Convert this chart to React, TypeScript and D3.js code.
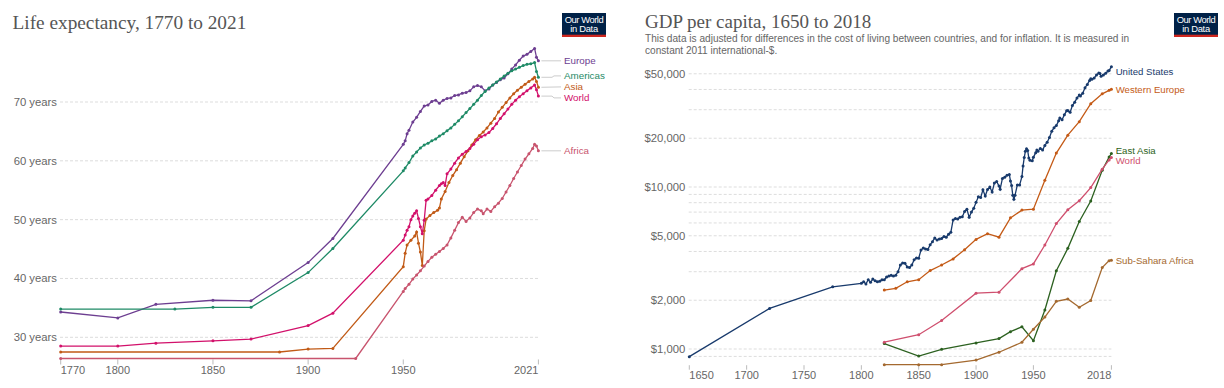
import React from 'react';
import * as d3 from 'd3';

type P = [number, number];

// ---------------- Life expectancy (left) ----------------
const leTitle = 'Life expectancy, 1770 to 2021';
const leYTicks = [30, 40, 50, 60, 70];
const leXTicks = [1770, 1800, 1850, 1900, 1950, 2021];

const europe: P[] = [
  [1770, 34.3], [1800, 33.3], [1820, 35.6], [1850, 36.3], [1870, 36.2], [1900, 42.7], [1913, 46.8],
  [1950, 62.8], [1951, 63.4], [1952, 64.6], [1953, 65.2], [1955, 66.6], [1957, 67.4], [1959, 68.4],
  [1961, 69.3], [1963, 69.5], [1965, 70.1], [1967, 70.3], [1969, 69.8], [1971, 70.3], [1973, 70.6],
  [1975, 70.7], [1977, 71.1], [1979, 71.2], [1981, 71.5], [1983, 71.6], [1985, 71.9], [1987, 72.6],
  [1989, 72.8], [1991, 72.6], [1993, 71.9], [1995, 72.2], [1997, 72.9], [1999, 73.3], [2001, 73.8],
  [2003, 74.1], [2005, 74.8], [2007, 75.6], [2009, 76.3], [2011, 77.1], [2013, 77.8], [2015, 78.1],
  [2017, 78.6], [2019, 79.1], [2020, 77.6], [2021, 77.0],
];
const americas: P[] = [
  [1770, 34.8], [1830, 34.8], [1850, 35.1], [1870, 35.1], [1900, 41.0], [1913, 45.1],
  [1950, 58.3], [1951, 58.8], [1953, 59.7], [1955, 60.8], [1957, 61.5], [1959, 62.2], [1961, 62.7],
  [1963, 63.0], [1965, 63.4], [1967, 63.7], [1969, 64.2], [1971, 64.6], [1973, 65.1], [1975, 65.6],
  [1977, 66.2], [1979, 66.8], [1981, 67.5], [1983, 68.2], [1985, 68.9], [1987, 69.6], [1989, 70.3],
  [1991, 71.1], [1993, 71.8], [1995, 72.4], [1997, 72.9], [1999, 73.4], [2001, 73.9], [2003, 74.4],
  [2005, 74.9], [2007, 75.3], [2009, 75.6], [2011, 75.9], [2013, 76.2], [2015, 76.4], [2017, 76.5],
  [2019, 76.7], [2020, 75.2], [2021, 74.2],
];
const asia: P[] = [
  [1770, 27.5], [1885, 27.5], [1900, 28.0], [1913, 28.1],
  [1950, 42.0], [1951, 44.3], [1952, 45.7], [1954, 46.5], [1956, 47.2], [1957, 47.9], [1958, 46.0],
  [1959, 44.5], [1960, 42.2], [1961, 48.1], [1962, 50.1], [1964, 50.7], [1966, 51.2], [1968, 51.6],
  [1969, 52.0], [1970, 53.5], [1972, 54.8], [1974, 56.3], [1976, 57.5], [1978, 58.5], [1980, 59.6],
  [1982, 60.7], [1984, 61.7], [1986, 62.7], [1988, 63.6], [1990, 64.3], [1992, 64.9], [1994, 65.6],
  [1996, 66.4], [1998, 67.2], [2000, 68.3], [2002, 69.1], [2004, 69.9], [2006, 70.7], [2008, 71.4],
  [2010, 72.0], [2012, 72.5], [2014, 73.0], [2016, 73.5], [2018, 73.9], [2019, 74.2], [2020, 73.5],
  [2021, 72.5],
];
const worldLE: P[] = [
  [1770, 28.5], [1800, 28.5], [1820, 29.0], [1850, 29.4], [1870, 29.7], [1900, 32.0], [1913, 34.1],
  [1950, 46.5], [1951, 47.4], [1952, 48.2], [1953, 48.8], [1954, 50.0], [1955, 50.6], [1956, 51.1],
  [1957, 51.5], [1958, 50.2], [1959, 48.8], [1960, 47.6], [1961, 49.9], [1962, 53.3], [1963, 53.5],
  [1965, 54.1], [1967, 55.0], [1969, 55.8], [1970, 56.1], [1971, 56.3], [1972, 55.8], [1973, 57.8],
  [1975, 58.6], [1977, 59.6], [1979, 60.5], [1981, 61.1], [1983, 61.6], [1985, 62.1], [1987, 62.8],
  [1989, 63.6], [1991, 64.1], [1993, 64.4], [1995, 64.8], [1997, 65.5], [1999, 66.3], [2001, 67.2],
  [2003, 68.0], [2005, 68.8], [2007, 69.6], [2009, 70.3], [2011, 70.9], [2013, 71.4], [2015, 71.9],
  [2017, 72.4], [2019, 72.9], [2020, 72.1], [2021, 71.0],
];
const africa: P[] = [
  [1770, 26.4], [1925, 26.4],
  [1950, 37.8], [1951, 38.3], [1953, 39.0], [1955, 39.9], [1957, 40.6], [1959, 41.3], [1961, 42.1],
  [1963, 42.9], [1965, 43.6], [1967, 44.1], [1969, 44.6], [1971, 45.1], [1973, 45.7], [1975, 46.9],
  [1977, 48.2], [1979, 49.5], [1981, 50.4], [1983, 49.7], [1985, 50.3], [1987, 51.2], [1989, 51.8],
  [1991, 51.5], [1992, 51.0], [1994, 51.8], [1996, 51.4], [1998, 52.2], [2000, 52.8], [2002, 53.6],
  [2004, 54.7], [2006, 55.8], [2008, 57.0], [2010, 58.1], [2012, 59.2], [2014, 60.3], [2016, 61.2],
  [2018, 62.1], [2019, 62.8], [2020, 62.5], [2021, 61.7],
];
const leSeries = [
  { name: 'Europe', color: '#6D3E91', data: europe },
  { name: 'Americas', color: '#1E8A66', data: americas },
  { name: 'Asia', color: '#C15A16', data: asia },
  { name: 'World', color: '#D2116B', data: worldLE },
  { name: 'Africa', color: '#C8546E', data: africa },
];

// ---------------- GDP per capita (right) ----------------
const gdpTitle = 'GDP per capita, 1650 to 2018';
const gdpSubtitle = [
  'This data is adjusted for differences in the cost of living between countries, and for inflation. It is measured in',
  'constant 2011 international-$.',
];
const gdpGrid = [900, 1000, 2000, 3000, 4000, 5000, 6000, 7000, 8000, 9000, 10000, 20000, 30000, 40000, 50000];
const gdpLabels = [1000, 2000, 5000, 10000, 20000, 50000];
const gdpXTicks = [1650, 1700, 1750, 1800, 1850, 1900, 1950, 2018];

const unitedStates: P[] = [
  [1650, 897], [1720, 1780], [1775, 2419], [1800, 2545], [1802, 2600], [1804, 2520], [1806, 2680],
  [1808, 2580], [1810, 2700], [1812, 2640], [1814, 2600], [1816, 2620], [1818, 2680], [1820, 2674],
  [1822, 2780], [1824, 2820], [1826, 2850], [1828, 2820], [1830, 2851], [1832, 3000], [1834, 3300],
  [1836, 3400], [1838, 3380], [1840, 3212], [1842, 3180], [1844, 3300], [1846, 3550], [1848, 3650],
  [1850, 3632], [1852, 4080], [1854, 4200], [1856, 4150], [1858, 4120], [1860, 4402], [1862, 4600],
  [1864, 4850], [1866, 4700], [1868, 4780], [1870, 4803], [1872, 4950], [1874, 4900], [1876, 5100],
  [1878, 5250], [1880, 6256], [1882, 6400], [1884, 6350], [1886, 6500], [1888, 6550], [1890, 7051],
  [1892, 7300], [1894, 6500], [1896, 7000], [1898, 7400], [1900, 8038], [1902, 8700], [1904, 8600],
  [1906, 9600], [1908, 8800], [1910, 9637], [1912, 10000], [1914, 9300], [1916, 10600], [1918, 10800],
  [1920, 10153], [1921, 9700], [1923, 11300], [1925, 11500], [1927, 11800], [1929, 11954], [1930, 10900],
  [1931, 10200], [1932, 8900], [1933, 8412], [1934, 8900], [1936, 10300], [1938, 10300], [1940, 11601],
  [1941, 13500], [1942, 15200], [1943, 16600], [1944, 17200], [1945, 16800], [1946, 15100], [1947, 14600],
  [1949, 14500], [1950, 15241], [1952, 16300], [1953, 16900], [1954, 16600], [1956, 17300], [1958, 16900],
  [1960, 18057], [1962, 18900], [1964, 20200], [1966, 22100], [1968, 23200], [1970, 23958], [1972, 25600],
  [1973, 26700], [1975, 26000], [1977, 27900], [1979, 29600], [1980, 29611], [1982, 28900], [1984, 31800],
  [1986, 33400], [1988, 35400], [1990, 36982], [1991, 36400], [1993, 37900], [1995, 41000], [1997, 43000],
  [1999, 45500], [2000, 46500], [2001, 46200], [2003, 47000], [2005, 49200], [2007, 50500], [2008, 50200],
  [2009, 48300], [2011, 49200], [2013, 50300], [2015, 52000], [2016, 52300], [2018, 55335],
];
const westernEurope: P[] = [
  [1820, 2310], [1830, 2370], [1840, 2600], [1850, 2680], [1860, 3050], [1870, 3300], [1880, 3600],
  [1890, 4100], [1900, 4750], [1910, 5150], [1920, 4900], [1930, 6450], [1940, 7200], [1950, 7300],
  [1960, 11000], [1970, 16200], [1980, 20900], [1990, 25300], [2000, 32700], [2010, 37600], [2016, 39500],
  [2018, 40100],
];
const eastAsia: P[] = [
  [1820, 1080], [1850, 905], [1870, 995], [1900, 1090], [1920, 1160], [1930, 1280], [1940, 1370],
  [1950, 1125], [1960, 1740], [1970, 3040], [1980, 4180], [1990, 6120], [2000, 8200], [2010, 12700],
  [2016, 15300], [2018, 16100],
];
const worldGDP: P[] = [
  [1820, 1102], [1850, 1225], [1870, 1498], [1900, 2212], [1920, 2241], [1940, 3133], [1950, 3351],
  [1960, 4386], [1970, 5952], [1980, 7233], [1990, 8222], [2000, 9915], [2010, 12880], [2016, 14700],
  [2018, 15212],
];
const subSaharaAfrica: P[] = [
  [1820, 800], [1850, 800], [1870, 800], [1900, 855], [1920, 955], [1940, 1100], [1950, 1325],
  [1960, 1575], [1970, 1970], [1980, 2035], [1990, 1810], [2000, 1990], [2010, 3180], [2016, 3510],
  [2018, 3535],
];
const gdpSeries = [
  { name: 'United States', color: '#183A6C', data: unitedStates },
  { name: 'Western Europe', color: '#C45A16', data: westernEurope },
  { name: 'East Asia', color: '#2C6120', data: eastAsia },
  { name: 'World', color: '#CF4F6E', data: worldGDP },
  { name: 'Sub-Sahara Africa', color: '#A4692F', data: subSaharaAfrica },
];

const SANS = '"Liberation Sans", Arial, Helvetica, sans-serif';
const SERIF = '"Liberation Serif", "Times New Roman", serif';

function spreadLabels(ys: number[], gap: number, minY = -Infinity): number[] {
  const items = ys.map((y, i) => ({ i, y })).sort((a, b) => a.y - b.y);
  let groups = items.map((it) => ({ items: [it], center: it.y }));
  let merged = true;
  while (merged) {
    merged = false;
    for (let k = 0; k < groups.length - 1; k++) {
      const a = groups[k], b = groups[k + 1];
      const aBottom = a.center + ((a.items.length - 1) * gap) / 2;
      const bTop = b.center - ((b.items.length - 1) * gap) / 2;
      if (bTop - aBottom < gap) {
        const its = [...a.items, ...b.items];
        groups.splice(k, 2, { items: its, center: d3.mean(its, (d) => d.y) as number });
        merged = true;
        break;
      }
    }
  }
  const out: number[] = new Array(ys.length);
  groups.forEach((g) => {
    g.items.forEach((it, j) => {
      out[it.i] = Math.max(minY, g.center - ((g.items.length - 1) * gap) / 2 + j * gap);
    });
  });
  return out;
}

function Logo({ x, y }: { x: number; y: number }) {
  return (
    <g transform={`translate(${x},${y})`}>
      <rect width={44} height={24} fill="#002147" />
      <rect y={21.7} width={44} height={2.3} fill="#CE261E" />
      <text x={22} y={9.6} textAnchor="middle" fill="#fff" fontSize={9.4} fontFamily={SANS} letterSpacing={-0.45}>Our World</text>
      <text x={22} y={18.6} textAnchor="middle" fill="#fff" fontSize={9.4} fontFamily={SANS} letterSpacing={-0.3}>in Data</text>
    </g>
  );
}

function LifeChart() {
  const x = d3.scaleLinear().domain([1770, 2021]).range([60.7, 538.4]);
  const y = d3.scaleLinear().domain([30, 70]).range([337.3, 102]);
  const line = d3.line<P>().x((d) => x(d[0])).y((d) => y(d[1]));
  const gridX0 = 60, gridX1 = x(2021);
  const ends = leSeries.map((s) => y(s.data[s.data.length - 1][1]));
  const labelYs = spreadLabels(ends, 11);
  const bottom = y(26.4);
  return (
    <g>
      <text x={12.5} y={28.5} fontFamily={SERIF} fontSize={19.3} fill="#555">{leTitle}</text>
      <Logo x={562} y={13} />
      {leYTicks.map((t) => (
        <g key={t}>
          <line x1={gridX0} x2={gridX1} y1={y(t)} y2={y(t)} stroke="#ddd" strokeDasharray="3,2" />
          <text x={57} y={y(t)} dy="0.35em" textAnchor="end" fontFamily={SANS} fontSize={11.3} fill="#666">{`${t} years`}</text>
        </g>
      ))}
      {leXTicks.map((t, i) => (
        <g key={t}>
          <line x1={x(t)} x2={x(t)} y1={bottom + 1} y2={bottom + 6} stroke="#bbb" />
          <text x={x(t)} y={374} textAnchor={i === 0 ? 'start' : i === leXTicks.length - 1 ? 'end' : 'middle'}
            fontFamily={SANS} fontSize={11} fill="#666">{t}</text>
        </g>
      ))}
      {leSeries.map((s) => (
        <g key={s.name}>
          <path d={line(s.data) || ''} fill="none" stroke={s.color} strokeWidth={1.3} />
          {s.data.map((d, i) => (
            <circle key={i} cx={x(d[0])} cy={y(d[1])} r={1.5} fill={s.color} />
          ))}
        </g>
      ))}
      {leSeries.map((s, i) => {
        const ey = ends[i], ly = labelYs[i];
        const x0 = x(2021) + 3, xm = 552, x1 = 561;
        const pts = Math.abs(ey - ly) < 0.5 ? `${x0},${ey} ${x1},${ly}` : `${x0},${ey} ${xm},${ey} ${xm + 2},${ly} ${x1},${ly}`;
        return (
          <g key={s.name}>
            <polyline points={pts} fill="none" stroke="#ccc" strokeWidth={1} />
            <text x={564} y={ly} dy="0.35em" fontFamily={SANS} fontSize={9.8} fill={s.color}>{s.name}</text>
          </g>
        );
      })}
    </g>
  );
}

function GdpChart() {
  const x = d3.scaleLinear().domain([1650, 2018]).range([689.3, 1111.4]);
  const y = d3.scaleLog().domain([1000, 10000]).range([349, 187]);
  const line = d3.line<P>().x((d) => x(d[0])).y((d) => y(d[1]));
  const gridX0 = 688.7, gridX1 = x(2018);
  const ends = gdpSeries.map((s) => y(s.data[s.data.length - 1][1]));
  const labelYs = spreadLabels(ends, 10.7, 71.7);
  const fmt = d3.format('$,');
  const bottom = y(800);
  return (
    <g>
      <text x={645} y={27.5} fontFamily={SERIF} fontSize={19} fill="#555">{gdpTitle}</text>
      {gdpSubtitle.map((t, i) => (
        <text key={i} x={645} y={42 + i * 11.7} fontFamily={SANS} fontSize={10.1} fill="#666">{t}</text>
      ))}
      <Logo x={1174} y={13} />
      {gdpGrid.map((t) => (
        <line key={t} x1={gridX0} x2={gridX1} y1={y(t)} y2={y(t)} stroke="#ddd" strokeDasharray="3,2" />
      ))}
      {gdpLabels.map((t) => (
        <text key={t} x={685.3} y={y(t)} dy="0.35em" textAnchor="end" fontFamily={SANS} fontSize={11.3} fill="#666">{fmt(t)}</text>
      ))}
      {gdpXTicks.map((t, i) => (
        <g key={t}>
          <line x1={x(t)} x2={x(t)} y1={bottom + 0.5} y2={bottom + 5} stroke="#bbb" />
          <text x={x(t)} y={379} textAnchor={i === 0 ? 'start' : i === gdpXTicks.length - 1 ? 'end' : 'middle'}
            fontFamily={SANS} fontSize={11} fill="#666">{t}</text>
        </g>
      ))}
      {gdpSeries.map((s) => (
        <g key={s.name}>
          <path d={line(s.data) || ''} fill="none" stroke={s.color} strokeWidth={1.3} />
          {s.data.map((d, i) => (
            <circle key={i} cx={x(d[0])} cy={y(d[1])} r={1.5} fill={s.color} />
          ))}
        </g>
      ))}
      {gdpSeries.map((s, i) => (
        <text key={s.name} x={1115.7} y={labelYs[i]} dy="0.35em" fontFamily={SANS} fontSize={9.6} fill={s.color}>{s.name}</text>
      ))}
    </g>
  );
}

export default function App() {
  return (
    <svg width={1224} height={388} viewBox="0 0 1224 388"
      style={{ position: 'absolute', left: 0, top: 0, background: '#fff' }}>
      <rect width={1224} height={388} fill="#fff" />
      <LifeChart />
      <GdpChart />
    </svg>
  );
}
